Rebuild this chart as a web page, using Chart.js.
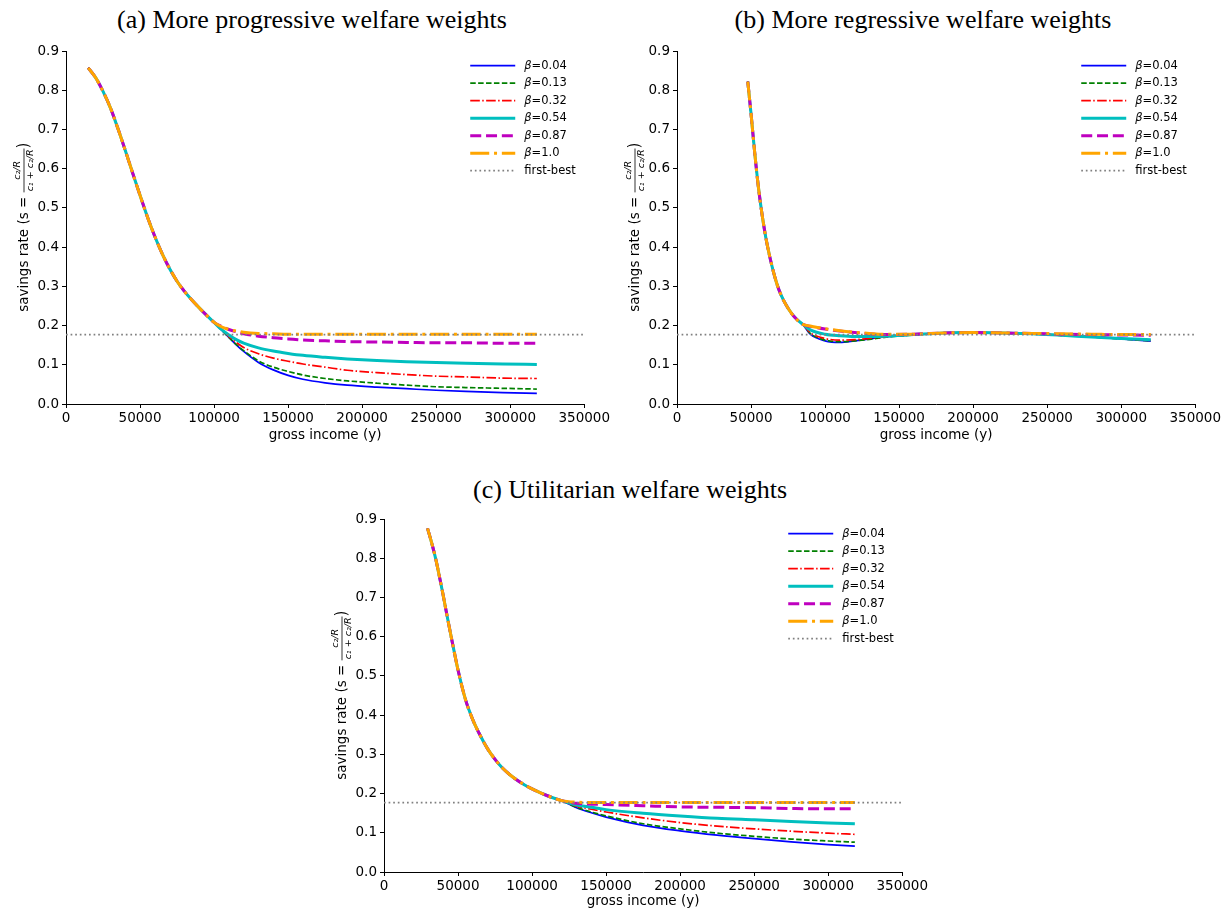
<!DOCTYPE html>
<html>
<head>
<meta charset="utf-8">
<script src="https://cdn.jsdelivr.net/npm/chart.js@4.4.1/dist/chart.umd.min.js"></script>
<style>
  body { margin:0; background:#fff; width:1224px; height:909px; overflow:hidden; position:relative; }
  canvas { position:absolute; }
  .ttl { position:absolute; font-family:'Liberation Serif', serif; font-size:26px; color:#000; transform:translateX(-50%); white-space:nowrap; }
</style>
</head>
<body>
<div class="ttl" style="left:312px; top:5px">(a) More progressive welfare weights</div>
<div class="ttl" style="left:923px; top:5px">(b) More regressive welfare weights</div>
<div class="ttl" style="left:630px; top:475px">(c) Utilitarian welfare weights</div>
<canvas id="chartA" width="612" height="450" style="left:0;top:0"></canvas>
<canvas id="chartB" width="612" height="450" style="left:611px;top:0"></canvas>
<canvas id="chartC" width="612" height="450" style="left:318px;top:468px"></canvas>
<script>
const betas = ['0.04', '0.13', '0.32', '0.54', '0.87', '1.0'];
const firstBest = 0.177;

// (a) more progressive weights: curves coincide up to 100000, then split
const incomeA = [15000, 20000, 25000, 30000, 35000, 40000, 45000, 50000, 55000, 60000, 65000, 70000, 75000, 80000, 85000, 90000, 95000, 100000,
  105000, 110000, 115000, 120000, 130000, 140000, 150000, 160000, 175000, 190000, 210000, 230000, 250000, 270000, 295000, 318000];
const sharedA = [0.857, 0.832, 0.797, 0.755, 0.703, 0.647, 0.589, 0.532, 0.477, 0.427, 0.383, 0.345, 0.313, 0.287, 0.265, 0.245, 0.226, 0.208];
const tailsA = [
  [0.189, 0.170, 0.151, 0.134, 0.106, 0.087, 0.073, 0.063, 0.054, 0.048, 0.043, 0.039, 0.035, 0.032, 0.029, 0.027],
  [0.189, 0.170, 0.152, 0.136, 0.110, 0.094, 0.083, 0.074, 0.065, 0.059, 0.053, 0.048, 0.044, 0.042, 0.040, 0.038],
  [0.190, 0.172, 0.157, 0.144, 0.128, 0.117, 0.109, 0.102, 0.094, 0.086, 0.080, 0.075, 0.071, 0.069, 0.066, 0.065],
  [0.190, 0.176, 0.164, 0.155, 0.143, 0.135, 0.129, 0.124, 0.119, 0.115, 0.111, 0.108, 0.106, 0.104, 0.102, 0.101],
  [0.198, 0.190, 0.184, 0.179, 0.173, 0.169, 0.166, 0.163, 0.161, 0.159, 0.158, 0.157, 0.156, 0.156, 0.155, 0.155],
  [0.197, 0.190, 0.186, 0.183, 0.180, 0.179, 0.178, 0.178, 0.178, 0.178, 0.178, 0.178, 0.178, 0.178, 0.178, 0.178]
];

// (b) more regressive weights
const incomeB = [47800, 50000, 52500, 55000, 57500, 60000, 62500, 65000, 67500, 70000, 75000, 80000, 85000,
  90000, 100000, 110000, 120000, 130000, 140000, 160000, 180000, 200000, 220000, 240000, 260000, 280000, 300000, 320000];
const sharedB = [0.822, 0.740, 0.640, 0.552, 0.482, 0.424, 0.378, 0.339, 0.306, 0.280, 0.244, 0.219, 0.203];
const tailsB = [
  [0.178, 0.161, 0.157, 0.161, 0.166, 0.171, 0.177, 0.181, 0.182, 0.181, 0.179, 0.175, 0.171, 0.166, 0.160],
  [0.180, 0.163, 0.159, 0.161, 0.165, 0.170, 0.176, 0.181, 0.182, 0.181, 0.179, 0.175, 0.171, 0.166, 0.161],
  [0.182, 0.167, 0.163, 0.164, 0.167, 0.171, 0.176, 0.181, 0.182, 0.181, 0.179, 0.175, 0.171, 0.167, 0.162],
  [0.189, 0.178, 0.174, 0.172, 0.172, 0.173, 0.177, 0.181, 0.182, 0.181, 0.179, 0.175, 0.171, 0.167, 0.164],
  [0.198, 0.191, 0.186, 0.182, 0.179, 0.177, 0.178, 0.181, 0.182, 0.181, 0.180, 0.178, 0.177, 0.176, 0.175],
  [0.199, 0.192, 0.187, 0.183, 0.180, 0.178, 0.178, 0.181, 0.182, 0.181, 0.180, 0.179, 0.178, 0.177, 0.177]
];

// (c) utilitarian weights
const incomeC = [29400, 32500, 35000, 37500, 40000, 42500, 45000, 47500, 50000, 55000, 60000, 65000, 70000, 75000, 80000, 85000, 90000, 95000, 100000, 105000, 110000, 115000, 120000,
  130000, 140000, 150000, 175000, 200000, 225000, 250000, 275000, 300000, 318000];
const sharedC = [0.876, 0.835, 0.797, 0.752, 0.705, 0.655, 0.607, 0.560, 0.515, 0.440, 0.388, 0.348, 0.314, 0.287, 0.265, 0.248, 0.234, 0.222, 0.212, 0.203, 0.195, 0.188, 0.182];
const tailsC = [
  [0.164, 0.151, 0.140, 0.119, 0.105, 0.094, 0.085, 0.077, 0.070, 0.066],
  [0.165, 0.153, 0.143, 0.123, 0.110, 0.099, 0.091, 0.084, 0.079, 0.076],
  [0.168, 0.160, 0.153, 0.138, 0.126, 0.117, 0.110, 0.104, 0.099, 0.096],
  [0.171, 0.165, 0.159, 0.150, 0.143, 0.137, 0.133, 0.129, 0.125, 0.123],
  [0.175, 0.173, 0.172, 0.169, 0.166, 0.165, 0.164, 0.162, 0.161, 0.161],
  [0.178, 0.177, 0.177, 0.177, 0.177, 0.177, 0.177, 0.177, 0.177, 0.177]
];

// line styles per beta (matplotlib-like)
const styles = [
  { color: '#0000ff', width: 1.7, dash: [] },
  { color: '#008000', width: 1.7, dash: [5.5, 2.4] },
  { color: '#ff0000', width: 1.7, dash: [9.6, 2.4, 1.5, 2.4] },
  { color: '#00bfbf', width: 3, dash: [] },
  { color: '#bf00bf', width: 3, dash: [11, 4.8] },
  { color: '#ffa500', width: 3, dash: [19, 4.8, 3, 4.8] }
];
const fbStyle = { color: '#808080', width: 1.7, dash: [1.7, 2.9] };

const FONT = '"DejaVu Sans", sans-serif';

function buildDatasets(xs, shared, tails) {
  const sets = betas.map((b, i) => {
    const ys = shared.concat(tails[i]);
    return {
      label: 'β=' + b,
      data: xs.map((x, k) => ({ x: x, y: ys[k] })),
      borderColor: styles[i].color,
      borderWidth: styles[i].width,
      borderDash: styles[i].dash,
      pointRadius: 0,
      cubicInterpolationMode: 'monotone',
      fill: false,
      order: 6 - i
    };
  });
  sets.push({
    label: 'first-best',
    data: [{ x: 0, y: firstBest }, { x: 350000, y: firstBest }],
    borderColor: fbStyle.color,
    borderWidth: fbStyle.width,
    borderDash: fbStyle.dash,
    pointRadius: 0,
    fill: false,
    order: 0
  });
  return sets;
}

// legend with line samples in the top-right corner of the plot
const lineLegend = {
  id: 'lineLegend',
  afterDraw(chart) {
    const ctx = chart.ctx, area = chart.chartArea;
    const x0 = area.right - 114, x1 = area.right - 69, tx = area.right - 60;
    let y = area.top + 14.7;
    const items = betas.map((b, i) => ({ beta: b, st: styles[i] }));
    items.push({ beta: null, st: fbStyle });
    ctx.save();
    items.forEach(it => {
      ctx.strokeStyle = it.st.color;
      ctx.lineWidth = it.st.width;
      ctx.setLineDash(it.st.dash);
      ctx.lineCap = 'butt';
      ctx.beginPath();
      ctx.moveTo(x0, y);
      ctx.lineTo(x1, y);
      ctx.stroke();
      ctx.setLineDash([]);
      ctx.fillStyle = '#000';
      ctx.textBaseline = 'middle';
      ctx.textAlign = 'left';
      if (it.beta) {
        ctx.font = 'italic 11.5px ' + FONT;
        ctx.fillText('β', tx, y);
        const w = ctx.measureText('β').width;
        ctx.font = '11.5px ' + FONT;
        ctx.fillText('=' + it.beta, tx + w, y);
      } else {
        ctx.font = '11.5px ' + FONT;
        ctx.fillText('first-best', tx, y);
      }
      y += 17.5;
    });
    ctx.restore();
  }
};

// rotated y title with the s = (c2/R)/(c1 + c2/R) fraction
const yTitle = {
  id: 'yTitle',
  afterDraw(chart) {
    const ctx = chart.ctx, area = chart.chartArea;
    const cy = (area.top + area.bottom) / 2;
    ctx.save();
    ctx.translate(24, cy);
    ctx.rotate(-Math.PI / 2);
    const main = '13.5px ' + FONT;
    const small = 'italic 9.5px ' + FONT;
    ctx.font = main;
    const pre = 'savings rate (s = ';
    const wPre = ctx.measureText(pre).width;
    const wClose = ctx.measureText(')').width;
    ctx.font = small;
    const num = 'c₂/R', den = 'c₁ + c₂/R';
    const wFrac = Math.max(ctx.measureText(num).width, ctx.measureText(den).width) + 2;
    let x = -(wPre + wFrac + wClose) / 2;
    ctx.fillStyle = '#000';
    ctx.textBaseline = 'middle';
    ctx.textAlign = 'left';
    ctx.font = main;
    ctx.fillText(pre, x, 0);
    x += wPre;
    ctx.font = small;
    ctx.textAlign = 'center';
    ctx.fillText(num, x + wFrac / 2, -6.5);
    ctx.fillText(den, x + wFrac / 2, 7);
    ctx.fillRect(x, -0.4, wFrac, 0.8);
    x += wFrac;
    ctx.textAlign = 'left';
    ctx.font = '15px ' + FONT;
    ctx.fillText(')', x, 0);
    ctx.restore();
  }
};

function makeChart(id, xs, shared, tails, xTitlePad) {
  new Chart(document.getElementById(id), {
    type: 'line',
    data: { datasets: buildDatasets(xs, shared, tails) },
    options: {
      responsive: false,
      animation: false,
      devicePixelRatio: 1,
      layout: { padding: { top: 51, right: 27, left: 0, bottom: 0 }, autoPadding: false },
      plugins: { legend: { display: false }, tooltip: { enabled: false } },
      scales: {
        x: {
          type: 'linear', min: 0, max: 350000,
          afterFit: s => { s.height = 46; },
          grid: { drawOnChartArea: false, drawTicks: true, tickLength: 4, color: '#000' },
          border: { display: true, color: '#000', width: 1 },
          ticks: { stepSize: 50000, maxRotation: 0, autoSkip: false, padding: 2, color: '#000',
                   font: { family: FONT, size: 13.5 }, callback: v => String(v) },
          title: { display: true, text: 'gross income (y)', color: '#000',
                   font: { family: FONT, size: 13.5 }, padding: { top: 0, bottom: xTitlePad } }
        },
        y: {
          min: 0, max: 0.9,
          afterFit: s => { s.width = 66; },
          grid: { drawOnChartArea: false, drawTicks: true, tickLength: 4, color: '#000' },
          border: { display: true, color: '#000', width: 1 },
          ticks: { stepSize: 0.1, padding: 3, color: '#000',
                   font: { family: FONT, size: 13.5 }, callback: v => v.toFixed(1) }
        }
      }
    },
    plugins: [lineLegend, yTitle]
  });
}

makeChart('chartA', incomeA, sharedA, tailsA, 6);
makeChart('chartB', incomeB, sharedB, tailsB, 6);
makeChart('chartC', incomeC, sharedC, tailsC, 8);
</script>
</body>
</html>
